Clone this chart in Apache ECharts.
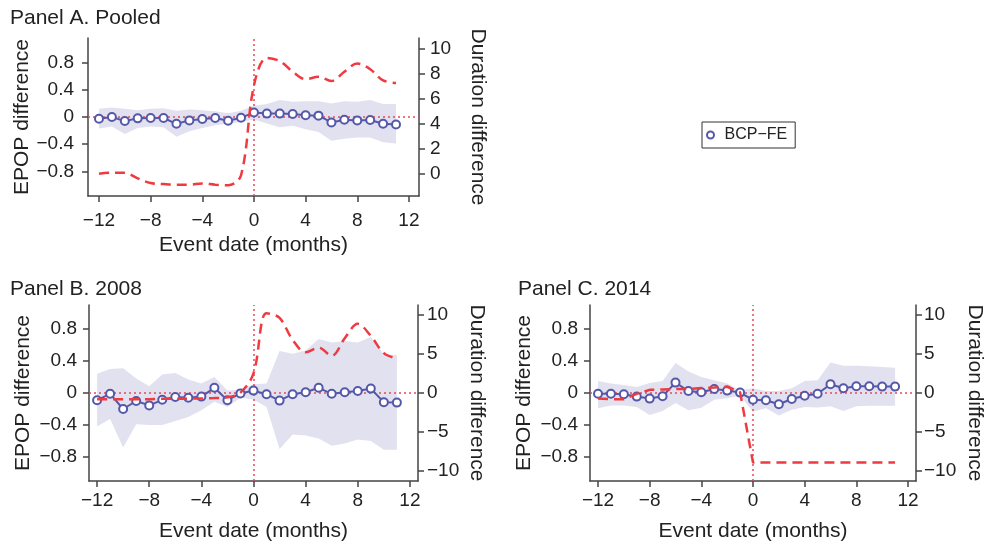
<!DOCTYPE html>
<html>
<head>
<meta charset="utf-8">
<script src="https://cdn.jsdelivr.net/npm/echarts@6/dist/echarts.min.js"></script>
<style>
  html, body { margin: 0; padding: 0; background: #fff; }
  #main { width: 986px; height: 544px; }
</style>
</head>
<body>
<div id="main"></div>
<script>
// event months
const months = [-12, -11, -10, -9, -8, -7, -6, -5, -4, -3, -2, -1, 0, 1, 2, 3, 4, 5, 6, 7, 8, 9, 10, 11];

// Panel A. Pooled
const aEpop = [-0.025, 0, -0.06, -0.02, -0.015, -0.015, -0.10, -0.05, -0.03, -0.015, -0.055, -0.01,
    0.065, 0.05, 0.05, 0.045, 0.025, 0.02, -0.08, -0.04, -0.05, -0.045, -0.10, -0.11];
const aHigh = [0.12, 0.14, 0.12, 0.10, 0.12, 0.13, 0.09, 0.11, 0.10, 0.085, 0.055, 0.09,
    0.165, 0.19, 0.25, 0.225, 0.23, 0.23, 0.20, 0.23, 0.225, 0.25, 0.19, 0.19];
const aLow = [-0.17, -0.14, -0.25, -0.16, -0.14, -0.15, -0.29, -0.21, -0.16, -0.12, -0.10, -0.075,
    -0.035, -0.095, -0.15, -0.13, -0.18, -0.22, -0.35, -0.32, -0.30, -0.30, -0.37, -0.39];
const aDur = [0.03, 0.1, 0.1, -0.35, -0.72, -0.8, -0.85, -0.85, -0.75, -0.85, -0.9, -0.1,
    7.1, 9.3, 9.05, 8.2, 7.6, 7.8, 7.45, 8.2, 8.85, 8.4, 7.5, 7.3];

// Panel B. 2008
const bEpop = [-0.09, -0.01, -0.2, -0.1, -0.155, -0.085, -0.05, -0.06, -0.045, 0.065, -0.09, -0.005,
    0.03, -0.015, -0.095, -0.015, 0.01, 0.065, -0.01, 0.01, 0.025, 0.055, -0.115, -0.12];
const bHigh = [0.24, 0.30, 0.31, 0.18, 0.085, 0.23, 0.25, 0.17, 0.12, 0.20, 0.03, 0.04,
    0.11, 0.12, 0.525, 0.49, 0.53, 0.675, 0.63, 0.65, 0.63, 0.70, 0.48, 0.475];
const bLow = [-0.42, -0.325, -0.68, -0.39, -0.40, -0.40, -0.35, -0.30, -0.215, -0.11, -0.175, -0.06,
    -0.08, -0.175, -0.70, -0.52, -0.53, -0.57, -0.66, -0.63, -0.58, -0.60, -0.71, -0.71];
const bDur = [-0.8, -0.8, -0.8, -0.8, -0.8, -0.75, -0.75, -0.72, -0.7, -0.65, -0.55, 0.05,
    2.5, 10.2, 9.6, 6.8, 5.2, 5.8, 4.75, 7.0, 8.85, 7.3, 5.1, 4.4];

// Panel C. 2014
const cEpop = [-0.01, -0.01, -0.015, -0.045, -0.07, -0.04, 0.13, 0.025, 0.01, 0.05, 0.03, 0.005,
    -0.085, -0.09, -0.14, -0.075, -0.035, -0.01, 0.11, 0.06, 0.085, 0.085, 0.08, 0.08];
const cHigh = [0.15, 0.12, 0.10, 0.075, 0.125, 0.15, 0.375, 0.27, 0.20, 0.16, 0.12, 0.035,
    0.06, 0.025, 0.025, 0.06, 0.15, 0.16, 0.38, 0.34, 0.34, 0.335, 0.325, 0.315];
const cLow = [-0.19, -0.155, -0.155, -0.175, -0.275, -0.225, -0.125, -0.215, -0.185, -0.085, -0.065, -0.035,
    -0.235, -0.19, -0.28, -0.21, -0.175, -0.18, -0.165, -0.225, -0.165, -0.16, -0.16, -0.16];
const cDur = [-0.7, -0.8, -0.8, -0.1, 0.4, 0.45, 0.5, 0.5, 0.65, 0.7, 0.8, 0.1,
    -8.9, -8.9, -8.9, -8.9, -8.9, -8.9, -8.9, -8.9, -8.9, -8.9, -8.9, -8.9];

// tick labels
const xTicks = [-12, -8, -4, 0, 4, 8, 12];
const epopTicks = [-0.8, -0.4, 0, 0.4, 0.8];
const durTicksA = [0, 2, 4, 6, 8, 10];
const durTicksBC = [-10, -5, 0, 5, 10];

const titles = ['Panel A. Pooled', 'Panel B. 2008', 'Panel C. 2014'];
const seriesName = 'BCP\u2212FE';

const blue = '#5558A8';
const red = '#EE3A40';
const band = '#E1E1F0';
const axisColor = '#444';
const font = '"Liberation Sans", Arial, Helvetica, sans-serif';

let minus = (v) => String(v).replace('-', '\u2212');

let panels = [
    {epop: aEpop, high: aHigh, low: aLow, dur: aDur, durTicks: durTicksA,
        grid: {left: 88, top: 38, width: 331, height: 158},
        x: [-12.85, 12.78], yl: [-1.16, 1.16], yr: [-1.76, 10.9],
        xMargin: 15, xGap: 39, lMargin: 14, rMargin: 11, smooth: 0.35},
    {epop: bEpop, high: bHigh, low: bLow, dur: bDur, durTicks: durTicksBC,
        grid: {left: 89, top: 305, width: 329, height: 176},
        x: [-12.62, 12.62], yl: [-1.1, 1.1], yr: [-11.25, 11.25],
        xMargin: 10, xGap: 40, lMargin: 12, rMargin: 9, smooth: 0.35},
    {epop: cEpop, high: cHigh, low: cLow, dur: cDur, durTicks: durTicksBC,
        grid: {left: 590, top: 305, width: 329, height: 176},
        x: [-12.62, 12.62], yl: [-1.1, 1.1], yr: [-11.25, 11.25],
        xMargin: 10, xGap: 40, lMargin: 12, rMargin: 8, smooth: false}
];

let axisCommon = {
    axisLine: {show: true, onZero: false, lineStyle: {color: axisColor, width: 1.5}},
    axisTick: {show: true, length: 6, lineStyle: {color: axisColor, width: 1.5}},
    splitLine: {show: false},
    nameTextStyle: {color: '#222', fontSize: 21, fontFamily: font}
};

let grids = [], xAxes = [], yAxes = [], series = [];

panels.forEach((p, i) => {
    grids.push(p.grid);
    xAxes.push(Object.assign({}, axisCommon, {
        type: 'value',
        gridIndex: i,
        min: p.x[0],
        max: p.x[1],
        name: 'Event date (months)',
        nameLocation: 'middle',
        nameGap: p.xGap,
        axisTick: Object.assign({}, axisCommon.axisTick, {customValues: xTicks}),
        axisLabel: {customValues: xTicks, formatter: minus, margin: p.xMargin,
            color: '#222', fontSize: 19, fontFamily: font}
    }));
    yAxes.push(Object.assign({}, axisCommon, {
        type: 'value',
        gridIndex: i,
        position: 'left',
        min: p.yl[0],
        max: p.yl[1],
        name: 'EPOP difference',
        nameLocation: 'middle',
        nameGap: 55,
        axisTick: Object.assign({}, axisCommon.axisTick, {customValues: epopTicks}),
        axisLabel: {customValues: epopTicks, formatter: minus, margin: p.lMargin,
            color: '#222', fontSize: 19, fontFamily: font}
    }));
    yAxes.push(Object.assign({}, axisCommon, {
        type: 'value',
        gridIndex: i,
        position: 'right',
        min: p.yr[0],
        max: p.yr[1],
        name: 'Duration difference',
        nameLocation: 'middle',
        nameRotate: -90,
        nameGap: 48,
        axisTick: Object.assign({}, axisCommon.axisTick, {customValues: p.durTicks}),
        axisLabel: {customValues: p.durTicks, formatter: minus, margin: p.rMargin,
            color: '#222', fontSize: 19, fontFamily: font}
    }));

    let bandData = months.map((m, k) => [m, p.low[k], p.high[k]]);
    // confidence band drawn as one polygon through the axis scales
    series.push({
        type: 'custom',
        xAxisIndex: i,
        yAxisIndex: 2 * i,
        silent: true,
        z: 1,
        encode: {x: 0, y: [1, 2]},
        data: bandData,
        renderItem: (params, api) => {
            if (params.dataIndex !== 0) {
                return;
            }
            let pts = [];
            for (let k = 0; k < bandData.length; k++) {
                pts.push(api.coord([bandData[k][0], bandData[k][2]]));
            }
            for (let k = bandData.length - 1; k >= 0; k--) {
                pts.push(api.coord([bandData[k][0], bandData[k][1]]));
            }
            return {type: 'polygon', shape: {points: pts}, style: {fill: band}};
        }
    });
    series.push({
        name: seriesName,
        type: 'line',
        xAxisIndex: i,
        yAxisIndex: 2 * i,
        z: 3,
        data: months.map((m, k) => [m, p.epop[k]]),
        symbol: 'emptyCircle',
        symbolSize: 8,
        lineStyle: {color: blue, width: 2},
        itemStyle: {color: blue, borderColor: blue, borderWidth: 2.2},
        markLine: {
            silent: true,
            symbol: 'none',
            label: {show: false},
            lineStyle: {color: '#E8485A', type: [2, 3], width: 1.5},
            data: [{yAxis: 0}, {xAxis: 0}],
            z: 2
        }
    });
    series.push({
        name: 'Duration',
        type: 'line',
        xAxisIndex: i,
        yAxisIndex: 2 * i + 1,
        z: 4,
        data: months.map((m, k) => [m, p.dur[k]]),
        smooth: p.smooth,
        showSymbol: false,
        symbol: 'none',
        lineStyle: {color: red, width: 2.5, type: [10, 6]}
    });
});

let chart = echarts.init(document.getElementById('main'), null, {renderer: 'canvas'});
chart.setOption({
    animation: false,
    backgroundColor: '#fff',
    textStyle: {fontFamily: font},
    title: [
        {text: titles[0], left: 10, top: 8, padding: 0},
        {text: titles[1], left: 10, top: 279, padding: 0},
        {text: titles[2], left: 518, top: 279, padding: 0}
    ].map(t => Object.assign(t, {textStyle: {fontSize: 21, fontWeight: 'normal', color: '#222', fontFamily: font}})),
    legend: {
        left: 702,
        top: 122,
        padding: [5, 8, 5, 4],
        borderColor: '#333',
        borderWidth: 1,
        borderRadius: 0,
        itemWidth: 18,
        itemHeight: 7,
        selectedMode: false,
        textStyle: {fontSize: 16, color: '#222', fontFamily: font},
        data: [{name: seriesName, icon: 'circle',
            itemStyle: {color: '#fff', borderColor: blue, borderWidth: 2}}]
    },
    grid: grids,
    xAxis: xAxes,
    yAxis: yAxes,
    series: series
});
</script>
</body>
</html>
